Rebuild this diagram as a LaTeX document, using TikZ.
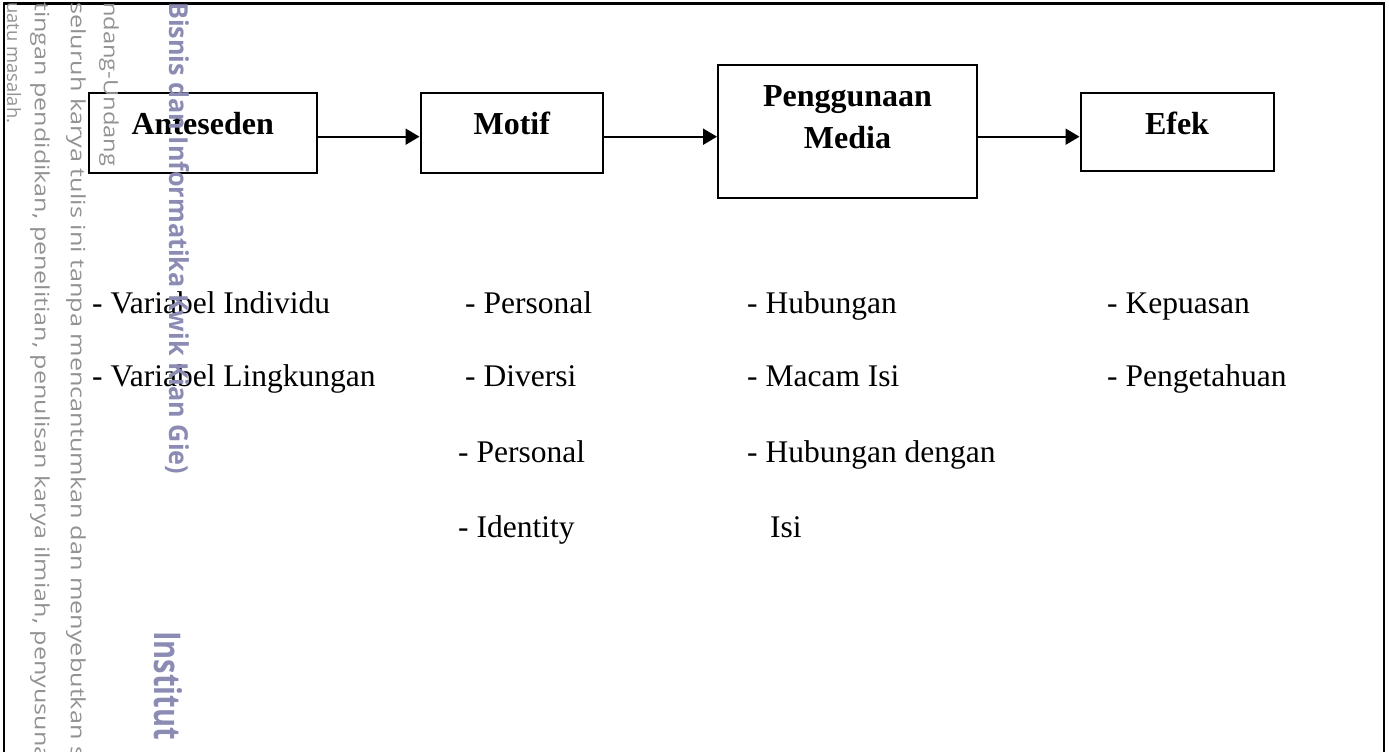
\documentclass[tikz,border=0pt]{standalone}
\usepackage{fontspec}
\usetikzlibrary{arrows.meta}
\setmainfont{Liberation Serif}
\newfontfamily\wmfont{Open Sans}
\definecolor{wmgray}{HTML}{929292}
\definecolor{wmpurple}{HTML}{8B8BB4}
\tikzset{
  box/.style={draw, line width=2pt, inner sep=0pt},
  head/.style={font=\bfseries\fontsize{32}{38}\selectfont, anchor=base, inner sep=0pt},
  item/.style={font=\fontsize{31.5}{38}\selectfont, anchor=base west, inner sep=0pt},
  conn/.style={-{Triangle[length=14pt,width=16pt]}, line width=2pt},
  wm/.style={rotate=-90, anchor=west, inner sep=0pt, text=wmgray, font=\wmfont},
  wmb/.style={rotate=-90, anchor=west, inner sep=0pt, text=wmpurple, font=\wmfont\bfseries},
}
\begin{document}
\begin{tikzpicture}[x=1pt,y=-1pt]
\useasboundingbox (0,0) rectangle (1389,752);
\clip (0,0) rectangle (1389,752);
% outer frame
\draw[line width=2.8pt] (4,780) -- (4,3.5) -- (1384,3.5) -- (1384,780);
% boxes
\node[box, minimum width=227.5pt, minimum height=80.6pt] (ant) at (202.75,133) {};
\node[box, minimum width=182.5pt, minimum height=80.6pt] (mot) at (511.75,133) {};
\node[box, minimum width=259pt, minimum height=132.7pt] (pm) at (847.5,131.35) {};
\node[box, minimum width=193pt, minimum height=77.4pt] (efk) at (1177,132) {};
% box texts
\node[head] (antT) at (202.75,134.3) {Anteseden};
\node[head] (motT) at (511.75,134.3) {Motif};
\node[head] (pmT1) at (847.5,106.7) {Penggunaan};
\node[head] (pmT2) at (847.5,148.3) {Media};
\node[head] (efkT) at (1177,134.3) {Efek};
% connectors
\draw[conn] ([yshift=-3.7pt]ant.east) -- ([yshift=-3.7pt]ant.east -| mot.west);
\draw[conn] ([yshift=-3.7pt]mot.east) -- ([yshift=-3.7pt]mot.east -| pm.west);
\draw[conn] ([yshift=-5.35pt]pm.east) -- ([yshift=-5.35pt]pm.east -| efk.west);
% lists
\node[item] (a1) at (92,313) {- Variabel Individu};
\node[item] (a2) at (92,386) {- Variabel Lingkungan};
\node[item] (b1) at (465,313) {- Personal};
\node[item] (b2) at (465,386) {- Diversi};
\node[item] (b3) at (458,462) {- Personal};
\node[item] (b4) at (458,537) {- Identity};
\node[item] (c1) at (747,313) {- Hubungan};
\node[item] (c2) at (747,386) {- Macam Isi};
\node[item] (c3) at (747,462) {- Hubungan dengan};
\node[item] (c4) at (770,537) {Isi};
\node[item] (d1) at (1107,313) {- Kepuasan};
\node[item] (d2) at (1107,386) {- Pengetahuan};
% watermark
\node[wm] (w1) at (14,2) {\resizebox{121pt}{14pt}{uatu masalah.}};
\node[wm] (w2) at (40,2) {\resizebox{758pt}{15pt}{tingan pendidikan, penelitian, penulisan karya ilmiah, penyusuna}};
\node[wm] (w3) at (76,2) {\resizebox{756pt}{15pt}{seluruh karya tulis ini tanpa mencantumkan dan menyebutkan s}};
\node[wm] (w4) at (109,2) {\resizebox{164pt}{15pt}{ndang-Undang}};
\node[wmb] (w5) at (177,2) {\resizebox{472pt}{20pt}{Bisnis dan Informatika Kwik Kian Gie)}};
\node[wmb] (w6) at (168,631) {\resizebox{109pt}{28pt}{Institut}};
\end{tikzpicture}
\end{document}
